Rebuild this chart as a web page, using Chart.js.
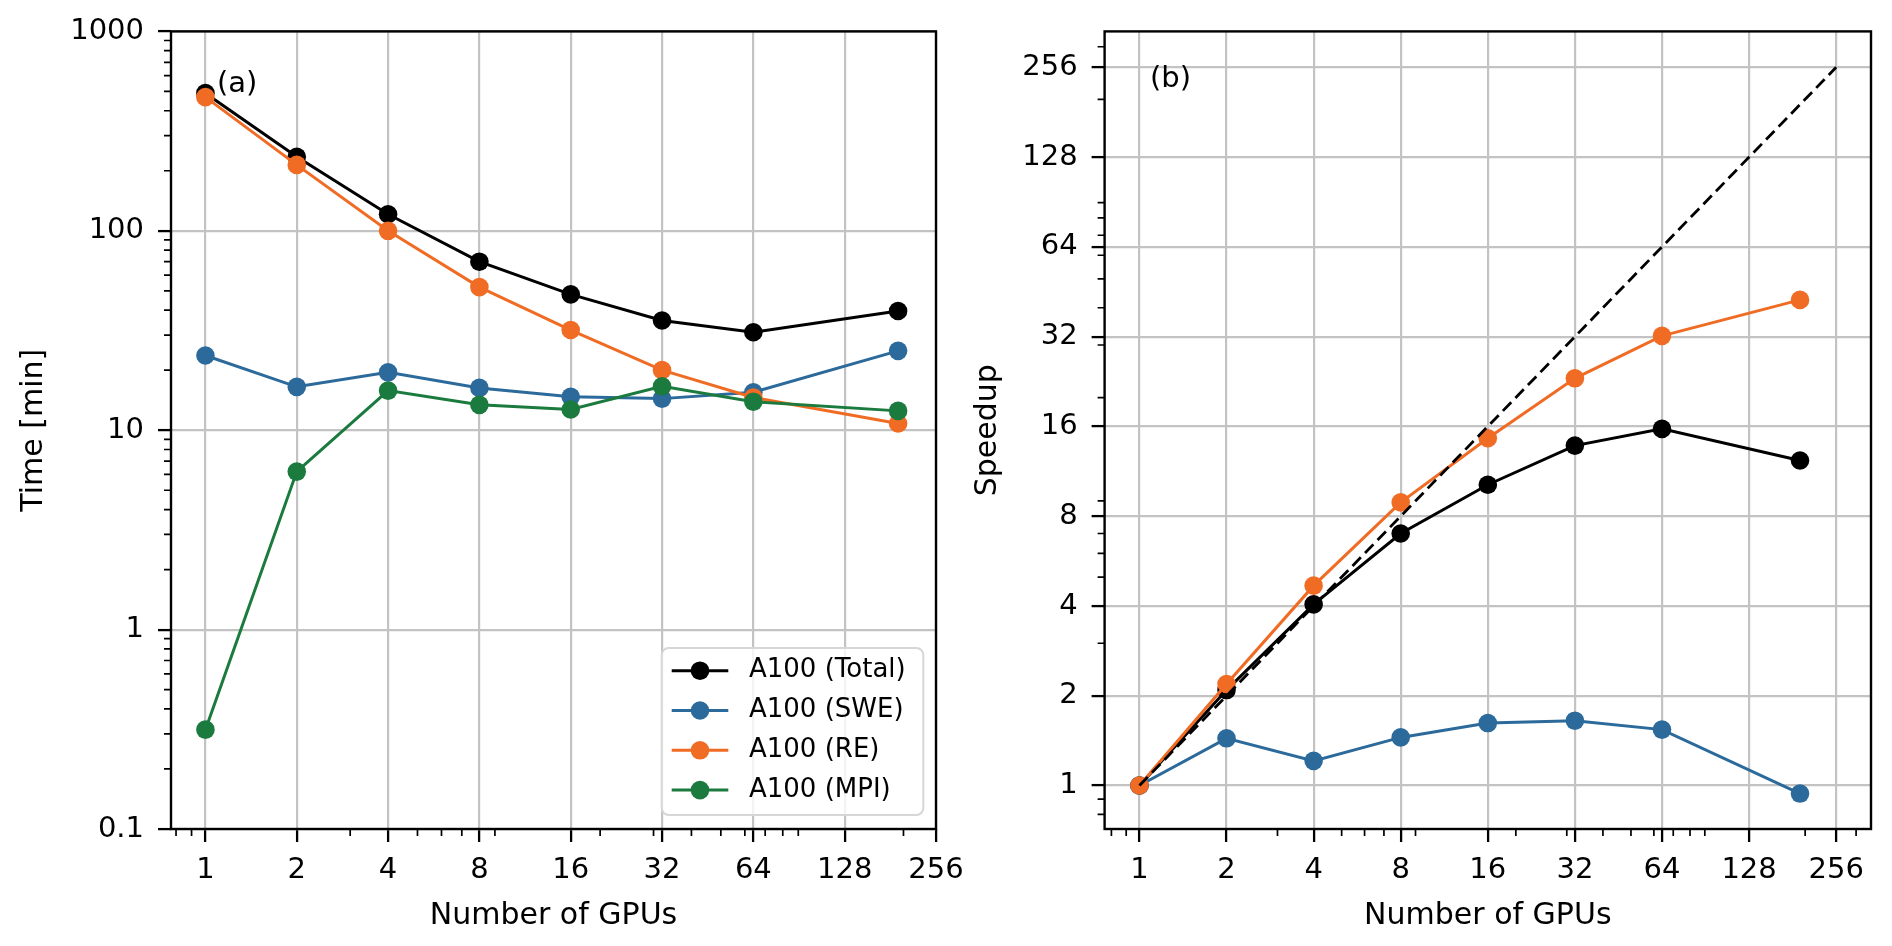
<!DOCTYPE html>
<html>
<head>
<meta charset="utf-8">
<title>A100 strong scaling</title>
<script src="https://cdn.jsdelivr.net/npm/chart.js@4.4.1/dist/chart.umd.min.js"></script>
<style>
  html, body { margin: 0; padding: 0; background: #fff; }
  #wrap { position: relative; width: 1892px; height: 946px; }
  canvas { position: absolute; left: 0; top: 0; }
</style>
</head>
<body>
<div id="wrap">
  <canvas id="timeChart" width="1892" height="946"></canvas>
  <canvas id="speedChart" width="1892" height="946"></canvas>
</div>
<script>
// values
const gpus = [1, 2, 4, 8, 16, 32, 64, 192];

const timeTotal = [490, 235, 121, 70, 48, 35.5, 31, 39.6];
const timeSWE = [23.7, 16.5, 19.5, 16.3, 14.7, 14.4, 15.5, 25];
const timeRE = [468, 214, 100, 52.2, 31.8, 20, 14.6, 10.8];
const timeMPI = [0.315, 6.2, 15.8, 13.4, 12.7, 16.6, 13.9, 12.5];

const speedTotal = [1, 2.09, 4.05, 7.0, 10.2, 13.8, 15.7, 12.3];
const speedSWE = [1, 1.44, 1.21, 1.45, 1.62, 1.65, 1.54, 0.94];
const speedRE = [1, 2.19, 4.68, 8.9, 14.6, 23.2, 32.2, 42.5];

const idealGpus = [1, 256];
const idealSpeedup = [1, 256];

const gpuTicks = [1, 2, 4, 8, 16, 32, 64, 128, 256];
const timeTicks = [0.1, 1, 10, 100, 1000];
const speedTicks = [1, 2, 4, 8, 16, 32, 64, 128, 256];

const BLACK = "#000000";
const BLUE = "#2b6a9a";
const ORANGE = "#f06c24";
const GREEN = "#1b7a3d";
const FONT = "'DejaVu Sans', sans-serif";

const tickFont = { family: FONT, size: 29 };
const labelFont = { family: FONT, size: 30 };

// minor tick spots like matplotlib's base-10 log locator (2..9 x 10^k), minus majors
function logMinors(min, max, majors) {
  const out = [];
  for (let e = -2; e <= 3; e++) {
    for (let m = 2; m <= 9; m++) {
      const v = m * Math.pow(10, e);
      if (v < min || v > max) continue;
      if (majors.some(t => Math.abs(t - v) < 1e-9)) continue;
      out.push(v);
    }
  }
  return out;
}

function series(label, xs, ys, color, order) {
  return {
    label: label,
    data: xs.map((x, i) => ({ x: x, y: ys[i] })),
    borderColor: color,
    backgroundColor: color,
    pointBackgroundColor: color,
    borderWidth: 3,
    pointRadius: 9.3,
    pointHoverRadius: 9.3,
    pointBorderWidth: 0,
    tension: 0,
    order: order
  };
}

const gridOpts = {
  color: "#c3c3c3",
  lineWidth: 2.2,
  drawTicks: true,
  tickLength: 13,
  tickColor: "#000",
  tickWidth: 2.3
};

function xAxis(min, max, height) {
  return {
    type: "logarithmic",
    position: "bottom",
    min: min,
    max: max,
    bounds: "data",
    afterBuildTicks: s => { s.ticks = gpuTicks.map(v => ({ value: v })); },
    afterFit: s => { s.height = height; },
    ticks: {
      autoSkip: false, maxRotation: 0, minRotation: 0, padding: 10.6,
      color: "#000", font: tickFont, callback: v => String(v)
    },
    grid: gridOpts,
    border: { display: false },
    title: {
      display: true, text: "Number of GPUs", color: "#000", font: labelFont,
      padding: { top: 0, bottom: 12 }
    }
  };
}

function yAxis(min, max, majors, width, title, titlePad) {
  return {
    type: "logarithmic",
    position: "left",
    min: min,
    max: max,
    bounds: "data",
    afterBuildTicks: s => { s.ticks = majors.map(v => ({ value: v })); },
    afterFit: s => { s.width = width; },
    ticks: {
      autoSkip: false, padding: 14, color: "#000", font: tickFont,
      callback: v => String(v)
    },
    grid: gridOpts,
    border: { display: false },
    title: {
      display: true, text: title, color: "#000", font: labelFont,
      padding: { top: titlePad, bottom: 0 }
    }
  };
}

// frame, minor ticks and the (a)/(b) tag
const framePlugin = {
  id: "frame",
  afterDatasetsDraw(chart, args, opts) {
    const { ctx, chartArea: a } = chart;
    const xs = chart.scales.x, ys = chart.scales.y;
    ctx.save();
    ctx.strokeStyle = "#000";
    ctx.lineWidth = 1.7;
    ctx.beginPath();
    opts.xMinor.forEach(v => {
      const px = xs.getPixelForValue(v);
      ctx.moveTo(px, a.bottom);
      ctx.lineTo(px, a.bottom + 7);
    });
    opts.yMinor.forEach(v => {
      const py = ys.getPixelForValue(v);
      ctx.moveTo(a.left, py);
      ctx.lineTo(a.left - 7, py);
    });
    ctx.stroke();
    ctx.lineWidth = 2.4;
    ctx.strokeRect(a.left, a.top, a.right - a.left, a.bottom - a.top);
    ctx.fillStyle = "#000";
    ctx.font = "29px " + FONT;
    ctx.textAlign = "left";
    ctx.textBaseline = "alphabetic";
    ctx.fillText(opts.tag, a.left + opts.tagDx, a.top + opts.tagDy);
    ctx.restore();
  }
};

// matplotlib-like framed legend in the lower right
const boxLegend = {
  id: "boxLegend",
  afterDraw(chart, args, opts) {
    if (!opts.show) return;
    const { ctx, chartArea: a } = chart;
    const w = 261.6, h = 167;
    const x = a.right - 12.7 - w, y = a.bottom - 14 - h, r = 7;
    ctx.save();
    ctx.beginPath();
    ctx.moveTo(x + r, y);
    ctx.arcTo(x + w, y, x + w, y + h, r);
    ctx.arcTo(x + w, y + h, x, y + h, r);
    ctx.arcTo(x, y + h, x, y, r);
    ctx.arcTo(x, y, x + w, y, r);
    ctx.closePath();
    ctx.fillStyle = "rgba(255,255,255,0.8)";
    ctx.fill();
    ctx.strokeStyle = "#d6d6d6";
    ctx.lineWidth = 2;
    ctx.stroke();

    ctx.font = "26px " + FONT;
    ctx.textAlign = "left";
    ctx.textBaseline = "middle";
    chart.data.datasets.forEach((ds, i) => {
      const cy = y + 22.7 + i * 39.8;
      ctx.strokeStyle = ds.borderColor;
      ctx.lineWidth = ds.borderWidth;
      ctx.beginPath();
      ctx.moveTo(x + 10, cy);
      ctx.lineTo(x + 66.6, cy);
      ctx.stroke();
      ctx.fillStyle = ds.borderColor;
      ctx.beginPath();
      ctx.arc(x + 38.3, cy, ds.pointRadius, 0, Math.PI * 2);
      ctx.fill();
      ctx.fillStyle = "#000";
      ctx.fillText(ds.label, x + 87.3, cy);
    });
    ctx.restore();
  }
};

// (a) time per component
const tMinX = 0.77, tMaxX = 256;
new Chart(document.getElementById("timeChart"), {
  type: "line",
  data: {
    datasets: [
      series("A100 (Total)", gpus, timeTotal, BLACK, 4),
      series("A100 (SWE)", gpus, timeSWE, BLUE, 3),
      series("A100 (RE)", gpus, timeRE, ORANGE, 2),
      series("A100 (MPI)", gpus, timeMPI, GREEN, 1)
    ]
  },
  options: {
    responsive: false,
    animation: false,
    devicePixelRatio: 1,
    layout: { padding: { left: 0, top: 30.5, right: 1892 - 936, bottom: 0 } },
    scales: {
      x: xAxis(tMinX, tMaxX, 117),
      y: yAxis(0.1, 1000, timeTicks, 171, "Time [min]", 16)
    },
    plugins: {
      legend: { display: false },
      tooltip: { enabled: false },
      frame: {
        xMinor: logMinors(tMinX, tMaxX, gpuTicks),
        yMinor: logMinors(0.1, 1000, timeTicks),
        tag: "(a)", tagDx: 46, tagDy: 60.5
      },
      boxLegend: { show: true }
    }
  },
  plugins: [framePlugin, boxLegend]
});

// (b) speedup
const sMinX = Math.pow(2, -0.4), sMaxX = Math.pow(2, 8.4);
const sMinY = Math.pow(2, -0.484), sMaxY = Math.pow(2, 8.4);
const ideal = series("Ideal", idealGpus, idealSpeedup, BLACK, 0);
ideal.borderDash = [12, 6];
ideal.borderWidth = 2.8;
ideal.pointRadius = 0;
ideal.pointHoverRadius = 0;

new Chart(document.getElementById("speedChart"), {
  type: "line",
  data: {
    datasets: [
      series("A100 (Total)", gpus, speedTotal, BLACK, 4),
      series("A100 (SWE)", gpus, speedSWE, BLUE, 3),
      series("A100 (RE)", gpus, speedRE, ORANGE, 2),
      ideal
    ]
  },
  options: {
    responsive: false,
    animation: false,
    devicePixelRatio: 1,
    layout: { padding: { left: 950, top: 30, right: 1892 - 1871, bottom: 0 } },
    scales: {
      x: xAxis(sMinX, sMaxX, 117),
      y: yAxis(sMinY, sMaxY, speedTicks, 1104.6 - 950, "Speedup", 20)
    },
    plugins: {
      legend: { display: false },
      tooltip: { enabled: false },
      frame: {
        xMinor: logMinors(sMinX, sMaxX, gpuTicks),
        yMinor: logMinors(sMinY, sMaxY, speedTicks),
        tag: "(b)", tagDx: 45.4, tagDy: 56
      },
      boxLegend: { show: false }
    }
  },
  plugins: [framePlugin, boxLegend]
});
</script>
</body>
</html>
